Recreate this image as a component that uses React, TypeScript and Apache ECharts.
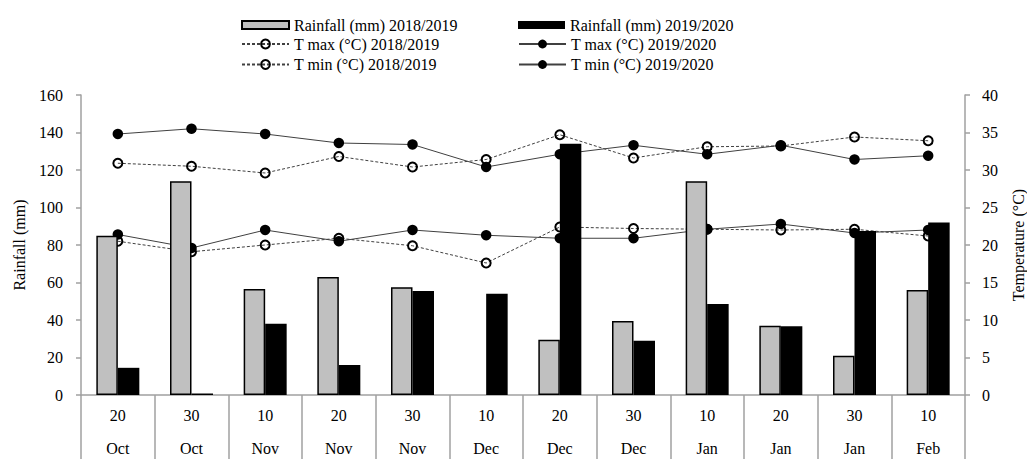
import React, { useEffect, useRef } from "react";
import * as echarts from "echarts";

const days = ["20", "30", "10", "20", "30", "10", "20", "30", "10", "20", "30", "10"];
const months = ["Oct", "Oct", "Nov", "Nov", "Nov", "Dec", "Dec", "Dec", "Jan", "Jan", "Jan", "Feb"];
const rain1819: (number | null)[] = [85, 114, 56.5, 63, 57.5, null, 29.5, 39.5, 114, 37, 21, 56];
const rain1920 = [14.5, 0.8, 38, 16, 55.5, 54, 134, 29, 48.5, 36.7, 87.5, 92];
const tmax1819 = [30.9, 30.5, 29.6, 31.8, 30.4, 31.4, 34.7, 31.6, 33.1, 33.2, 34.4, 33.9];
const tmax1920 = [34.8, 35.5, 34.8, 33.6, 33.4, 30.4, 32.1, 33.3, 32.1, 33.3, 31.4, 31.9];
const tmin1819 = [20.5, 19.1, 20.0, 20.9, 19.9, 17.6, 22.4, 22.2, 22.1, 22.0, 22.1, 21.2];
const tmin1920 = [21.4, 19.6, 22.0, 20.5, 22.0, 21.3, 20.9, 20.9, 22.1, 22.8, 21.6, 22.0];
const rainTicks = { min: 0, max: 160, interval: 20 };
const tempTicks = { min: 0, max: 40, interval: 5 };

const FONT = "Liberation Serif";
const AXIS = "#a0a0a0";

export default function App() {
  const ref = useRef<HTMLDivElement>(null);
  useEffect(() => {
    if (!ref.current) return;
    const chart = echarts.init(ref.current, undefined, { renderer: "svg" });
    const labels = days.map((d, i) => d + "\n" + months[i]);
    const txt = { fontFamily: FONT, fontSize: 16, color: "#000" };
    const hollow = { color: "rgba(255,255,255,0)", borderColor: "#000", borderWidth: 2 };
    const filled = { color: "#000", borderColor: "#000", borderWidth: 0 };
    const dashed = { color: "#404040", width: 1, type: [3, 2] as any };
    const solid = { color: "#404040", width: 1, type: "solid" as any };
    const legendBase = {
      selectedMode: false,
      textStyle: txt,
      itemWidth: 47,
    };
    chart.setOption({
      animation: false,
      textStyle: { fontFamily: FONT },
      legend: [
        { ...legendBase, left: 236, top: 12, itemHeight: 8, data: [{ name: "Rainfall (mm) 2018/2019", icon: "rect" }] },
        { ...legendBase, left: 236, top: 31, orient: "vertical", itemHeight: 11, itemGap: 4.5, data: ["T max (°C) 2018/2019", "T min (°C) 2018/2019"] },
        { ...legendBase, left: 513, top: 12, itemHeight: 8, data: [{ name: "Rainfall (mm) 2019/2020", icon: "rect" }] },
        { ...legendBase, left: 513, top: 31, orient: "vertical", itemHeight: 11, itemGap: 4.5, data: ["T max (°C) 2019/2020", "T min (°C) 2019/2020"] },
      ],
      grid: { left: 81, right: 62, top: 95, bottom: 64, containLabel: false, outerBoundsMode: "none" },
      xAxis: {
        type: "category",
        data: labels,
        boundaryGap: true,
        axisLine: { lineStyle: { color: AXIS, width: 1.5 } },
        axisTick: { show: true, length: 64, interval: 0, lineStyle: { color: AXIS, width: 1.5 } },
        axisLabel: { ...txt, interval: 0, lineHeight: 33, margin: 4 },
        splitLine: { show: false },
      },
      yAxis: [
        {
          type: "value",
          ...rainTicks,
          name: "Rainfall (mm)",
          nameLocation: "middle",
          nameGap: 54,
          nameTextStyle: txt,
          axisLine: { show: true, lineStyle: { color: AXIS, width: 1.5 } },
          axisTick: { show: true, length: 5, lineStyle: { color: AXIS, width: 1.5 } },
          axisLabel: { ...txt, margin: 18 },
          splitLine: { show: false },
        },
        {
          type: "value",
          ...tempTicks,
          position: "right",
          name: "Temperature (°C)",
          nameLocation: "middle",
          nameGap: 45,
          nameTextStyle: txt,
          axisLine: { show: true, lineStyle: { color: AXIS, width: 1.5 } },
          axisTick: { show: true, length: 5, lineStyle: { color: AXIS, width: 1.5 } },
          axisLabel: { ...txt, margin: 17 },
          splitLine: { show: false },
        },
      ],
      series: [
        { name: "T max (°C) 2018/2019", type: "line", yAxisIndex: 1, data: tmax1819, symbol: "circle", symbolSize: 9, itemStyle: hollow, lineStyle: dashed, z: 2 },
        { name: "T min (°C) 2018/2019", type: "line", yAxisIndex: 1, data: tmin1819, symbol: "circle", symbolSize: 9, itemStyle: hollow, lineStyle: dashed, z: 2 },
        { name: "T max (°C) 2019/2020", type: "line", yAxisIndex: 1, data: tmax1920, symbol: "circle", symbolSize: 10.5, itemStyle: filled, lineStyle: solid, z: 2 },
        { name: "T min (°C) 2019/2020", type: "line", yAxisIndex: 1, data: tmin1920, symbol: "circle", symbolSize: 10.5, itemStyle: filled, lineStyle: solid, z: 2 },
        { name: "Rainfall (mm) 2018/2019", type: "bar", yAxisIndex: 0, data: rain1819, barWidth: 21.5, barGap: "0%", itemStyle: { color: "#c0c0c0", borderColor: "#000", borderWidth: 1.5 }, z: 3 },
        { name: "Rainfall (mm) 2019/2020", type: "bar", yAxisIndex: 0, data: rain1920, barWidth: 21.5, barGap: "0%", itemStyle: { color: "#000", borderColor: "#000", borderWidth: 0 }, z: 3 },
      ],
    });
    return () => chart.dispose();
  }, []);
  return <div ref={ref} style={{ width: 1027, height: 459, position: "absolute", left: 0, top: 0 }} />;
}
